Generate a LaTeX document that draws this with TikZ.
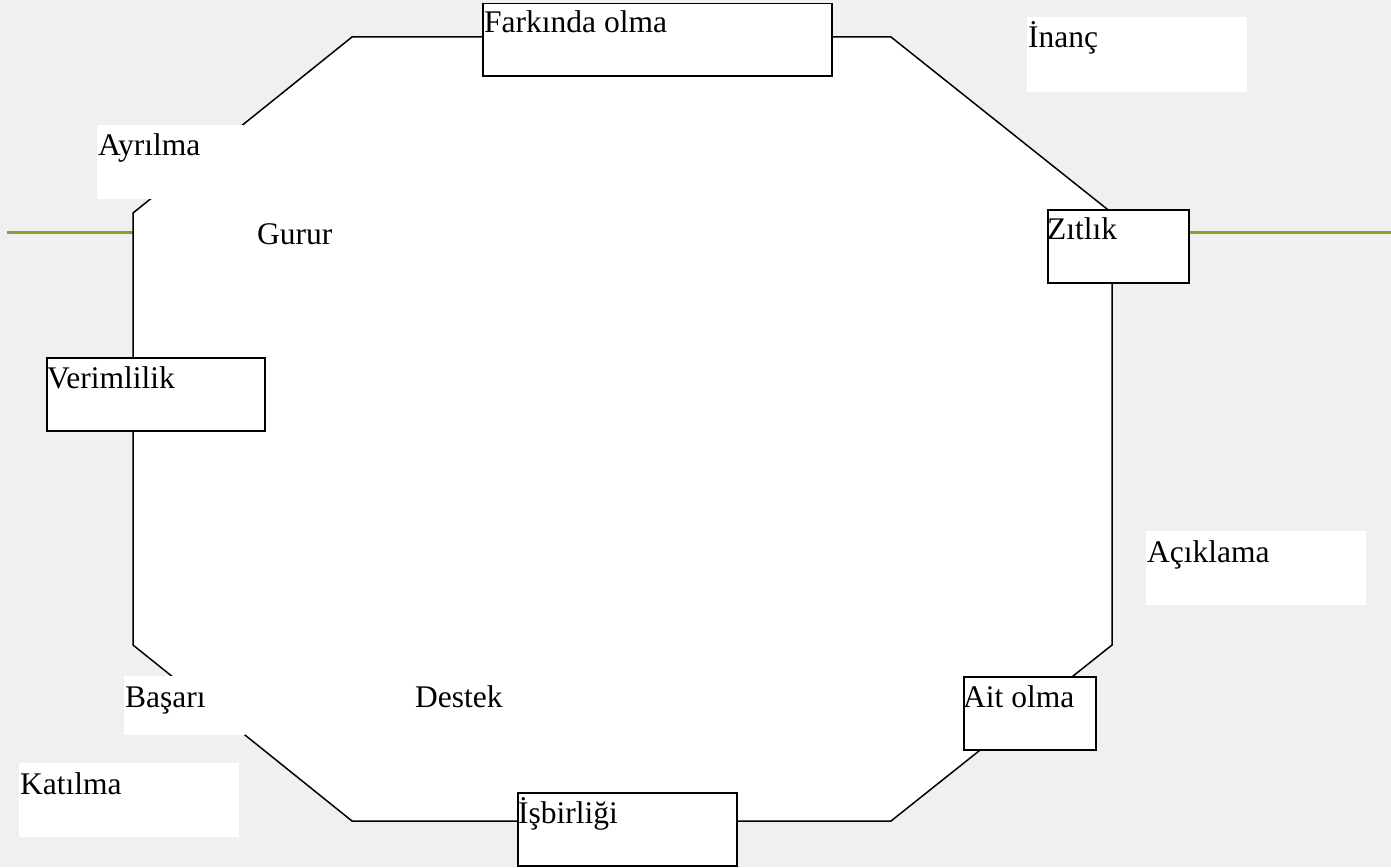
\documentclass[tikz,border=0pt]{standalone}
\usepackage{fontspec}
\setmainfont{Liberation Serif}
\definecolor{bgcol}{RGB}{240,240,240}
\definecolor{olivecol}{RGB}{141,160,43}
\tikzset{
  lbl/.style={font=\fontsize{31.5}{36}\selectfont, inner sep=0pt, anchor=base west, text=black},
  boxed/.style={draw=black, fill=white, line width=1.5pt, anchor=north west, inner sep=0pt},
  plain/.style={draw=none, fill=white, anchor=north west, inner sep=0pt},
  octa/.style={draw=black, fill=white, line width=1.5pt, line join=miter},
  greenline/.style={draw=olivecol, line width=3pt}
}
\begin{document}
\begin{tikzpicture}[x=1pt,y=-1pt]
\useasboundingbox (0,0) rectangle (1391,867);
\fill[bgcol] (0,0) rectangle (1391,867);
% green rule
\coordinate (gl1) at (7,232);
\coordinate (gl2) at (133,232);
\coordinate (gr1) at (1188,232);
\coordinate (gr2) at (1391,232);
\draw[greenline] (gl1) -- (gl2);
\draw[greenline] (gr1) -- (gr2);
% octagon
\coordinate (o1) at (352,37);
\coordinate (o2) at (891,37);
\coordinate (o3) at (1112,213);
\coordinate (o4) at (1112,645);
\coordinate (o5) at (891,821);
\coordinate (o6) at (352,821);
\coordinate (o7) at (133,645);
\coordinate (o8) at (133,213);
\draw[octa] (o1) -- (o2) -- (o3) -- (o4) -- (o5) -- (o6) -- (o7) -- (o8) -- cycle;
% bordered boxes
\node[boxed, minimum width=349pt, minimum height=72pt] (farkinda) at (482,3) {};
\node[lbl] at ([xshift=2pt,yshift=-30pt]farkinda.north west) {Farkında olma};
\node[boxed, minimum width=141pt, minimum height=73pt] (zitlik) at (1047,209) {};
\node[lbl] at ([xshift=0pt,yshift=-30pt]zitlik.north west) {Zıtlık};
\node[boxed, minimum width=218pt, minimum height=73pt] (verim) at (46,357) {};
\node[lbl] at ([xshift=1pt,yshift=-31pt]verim.north west) {Verimlilik};
\node[boxed, minimum width=132pt, minimum height=73pt] (ait) at (963,676) {};
\node[lbl] at ([xshift=0pt,yshift=-31pt]ait.north west) {Ait olma};
\node[boxed, minimum width=219pt, minimum height=73pt] (isbirligi) at (517,792) {};
\node[lbl] at ([xshift=1pt,yshift=-31pt]isbirligi.north west) {İşbirliği};
% plain white boxes
\node[plain, minimum width=146pt, minimum height=74pt] (ayrilma) at (97,125) {};
\node[lbl] at ([xshift=1pt,yshift=-30pt]ayrilma.north west) {Ayrılma};
\node[plain, minimum width=220pt, minimum height=75pt] (inanc) at (1027,17) {};
\node[lbl] at ([xshift=1pt,yshift=-31pt]inanc.north west) {İnanç};
\node[plain, minimum width=220pt, minimum height=74pt] (aciklama) at (1146,531) {};
\node[lbl] at ([xshift=1pt,yshift=-31pt]aciklama.north west) {Açıklama};
\node[plain, minimum width=220pt, minimum height=74pt] (katilma) at (19,763) {};
\node[lbl] at ([xshift=1pt,yshift=-31pt]katilma.north west) {Katılma};
\node[plain, minimum width=121pt, minimum height=59pt] (basari) at (124,676) {};
\node[lbl] at ([xshift=1pt,yshift=-31pt]basari.north west) {Başarı};
% texts inside octagon
\node[lbl] (gurur) at (257,244) {Gurur};
\node[lbl] (destek) at (415,707) {Destek};
\end{tikzpicture}
\end{document}
